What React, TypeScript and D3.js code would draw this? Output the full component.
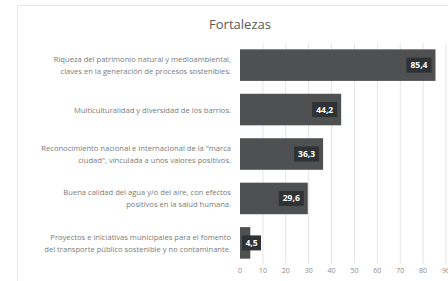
import React from 'react';
import * as d3 from 'd3';

const categories = [
  ['Riqueza del patrimonio natural y medioambiental,', 'claves en la generación de procesos sostenibles.'],
  ['Multiculturalidad y diversidad de los barrios.'],
  ['Reconocimiento nacional e internacional de la "marca', 'ciudad", vinculada a unos valores positivos.'],
  ['Buena calidad del agua y/o del aire, con efectos', 'positivos en la salud humana.'],
  ['Proyectos e iniciativas municipales para el fomento', 'del transporte público sostenible y no contaminante.'],
];
const values = [85.4, 44.2, 36.3, 29.6, 4.5];
const ticks = [0, 10, 20, 30, 40, 50, 60, 70, 80, 90];

const W = 448;
const H = 281;

const App = () => {
  const x = d3.scaleLinear().domain([0, 90]).range([240, 446]);
  const y = d3
    .scaleBand<number>()
    .domain(values.map((_, i) => i))
    .range([44, 264])
    .paddingInner(0.29)
    .paddingOuter(0.12);

  const font = '"Open Sans", Arial, sans-serif';

  return (
    <svg
      width={W}
      height={H}
      style={{ position: 'absolute', left: 0, top: 0, background: '#fff' }}
      fontFamily={font}
    >
      {/* chart frame */}
      <rect x={17.5} y={5.5} width={440} height={300} fill="none" stroke="#e6e6e6" />

      <text x={240} y={29} textAnchor="middle" fontSize={13} fill="#595959">
        Fortalezas
      </text>

      {/* gridlines */}
      {ticks.slice(1).map((t) => (
        <line key={t} x1={x(t)} x2={x(t)} y1={43} y2={264} stroke="#e4e4e4" strokeWidth={1} />
      ))}

      {ticks.map((t) => (
        <text key={t} x={x(t)} y={273} textAnchor="middle" fontSize={7} fill="#8a8a8a">
          {t}
        </text>
      ))}

      {values.map((v, i) => {
        const by = y(i)!;
        const bh = y.bandwidth();
        const end = x(v);
        const label = d3.format('.1f')(v).replace('.', ',');
        const bw = label.length > 3 ? 25 : 19;
        const right = Math.max(end - 4, x(0) + bw + 2);
        const lines = categories[i];
        const cy = by + bh / 2;
        return (
          <g key={i}>
            <rect x={x(0)} y={by} width={end - x(0)} height={bh} fill="#4e5051" />
            <rect x={right - bw} y={cy - 7.5} width={bw} height={15} fill="#2f3234" />
            <text
              x={right - bw / 2}
              y={cy + 3}
              textAnchor="middle"
              fontSize={8.5}
              fontWeight="bold"
              fill="#fff"
            >
              {label}
            </text>
            {lines.map((l, j) => (
              <text
                key={j}
                x={231}
                y={cy + 3 + (j - (lines.length - 1) / 2) * 12}
                textAnchor="end"
                fontSize={7.6}
                fill="#7a7a7a"
                textLength={undefined}
              >
                {l}
              </text>
            ))}
          </g>
        );
      })}
    </svg>
  );
};

export default App;
